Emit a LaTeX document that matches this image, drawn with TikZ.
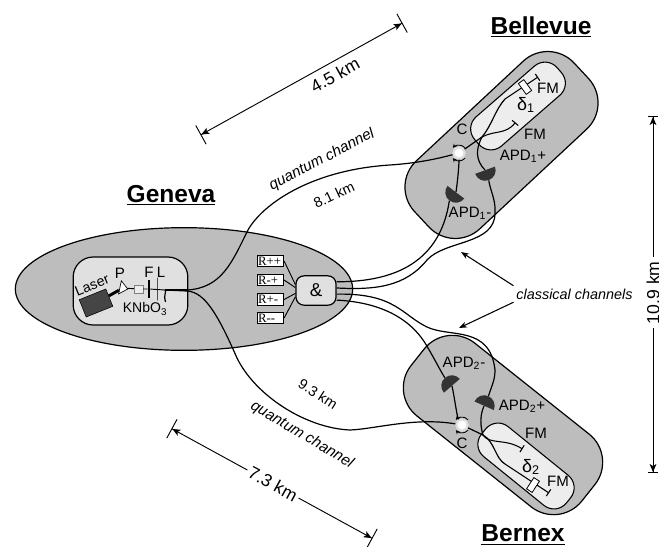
\documentclass[tikz,border=0pt]{standalone}
\usepackage{fontspec}
\setmainfont{Liberation Sans}
\newfontfamily\boxfont{Liberation Serif}
\usetikzlibrary{positioning, shapes.geometric, arrows.meta}
\definecolor{areagrey}{gray}{0.74}
\definecolor{roomgrey}{gray}{0.88}
\definecolor{armgrey}{gray}{0.93}
\definecolor{darkgrey}{gray}{0.27}
\definecolor{apdgrey}{gray}{0.2}

\begin{document}
\begin{tikzpicture}[x=0.75pt, y=-0.75pt,
    site/.style={draw, line width=0.9pt, fill=areagrey, rectangle, rounded corners=27pt, minimum width=163.5pt, minimum height=69.75pt},
    arm/.style={draw, line width=0.8pt, fill=armgrey, rectangle, rounded corners=12pt, minimum width=82pt, minimum height=29pt},
    city/.style={font=\fontsize{18.4}{20}\selectfont\bfseries},
    lab/.style={font=\fontsize{11.3}{13}\selectfont, inner sep=0pt},
    dist/.style={font=\fontsize{13.2}{15}\selectfont, inner sep=0pt},
    chan/.style={font=\fontsize{11.4}{13}\selectfont\itshape, inner sep=0pt},
    len/.style={font=\fontsize{10.8}{13}\selectfont, inner sep=0pt},
    fibre/.style={line width=0.9pt},
    fm/.style={line width=0.8pt, -{Bar[width=6pt]}},
    dimline/.style={line width=0.7pt, arrows={Bar[width=16pt]Stealth[inset=1.5pt,length=6pt,width=5pt]-Stealth[inset=1.5pt,length=6pt,width=5pt]Bar[width=16pt]}},
    apd/.style={semicircle, fill=apdgrey, inner sep=0pt, minimum width=15.75pt, minimum height=7.9pt, anchor=chord center},
    circ/.style={circle, fill=white, draw=gray!25, line width=1.6pt, inner sep=0pt, minimum size=8.5pt},
    turn/.style={line width=0.6pt, -{Stealth[length=3pt,width=3pt]}},
    rbox/.style={draw, fill=white, line width=0.7pt, inner sep=0.6pt, text width=18.5pt, text height=6.6pt, text depth=0.6pt, font=\fontsize{9.6}{9.6}\selectfont\boxfont},
    modul/.style={draw, fill=white, line width=0.6pt, inner sep=0pt, minimum width=5pt, minimum height=10pt}]
  \useasboundingbox (0,0) rectangle (659,546);

  \node[draw, line width=0.9pt, ellipse, fill=areagrey, minimum width=253pt, minimum height=92pt, inner sep=0pt] (geneva) at (184,289) {};
  \node[site, rotate=43] (bellevue) at (501.5,145) {};
  \node[site, rotate=-38.5] (bernex) at (503,425) {};
  \node[arm, rotate=41] (armone) at (518,106) {};
  \node[arm, rotate=-39] (armtwo) at (526,466) {};
  \node[draw, line width=0.9pt, rectangle, rounded corners=15pt, fill=roomgrey, minimum width=86pt, minimum height=51pt] (source) at (130.5,291) {};

  \node[city] (lblgeneva) at (171,195) {\underline{Geneva}};
  \node[city] (lblbellevue) at (541,27) {\underline{Bellevue}};
  \node[city] (lblbernex) at (523,535) {\underline{Bernex}};

  % source
  \node[rectangle, fill=darkgrey, draw=black, line width=0.4pt, rotate=22, minimum width=21.5pt, minimum height=14pt, inner sep=0pt] (laser) at (96,303) {};
  \node[isosceles triangle, isosceles triangle apex angle=80, draw, fill=white, line width=0.5pt, inner sep=0pt, minimum height=6pt, minimum width=8pt, rotate=-12] (prism) at (123,288) {};
  \node[draw=gray, fill=armgrey, line width=0.5pt, minimum width=6.5pt, minimum height=6pt, inner sep=0pt] (sq) at (138.5,289) {};
  \node[fill=black, minimum width=1.6pt, minimum height=13.5pt, inner sep=0pt] (filter) at (149,289) {};
  \node[draw, line width=0.3pt, minimum width=0pt, minimum height=17pt, inner sep=0pt] (lens) at (157,289) {};
  \coordinate (crystal) at (165,290);
  \coordinate (curl) at (165.5,302);
  \coordinate (qup) at (187,290);
  \coordinate (qdown) at (187,291);
  \draw[line width=2.2pt] (laser) -- (prism);
  \draw[line width=0.7pt] (prism) -- (sq) -- (filter) -- (crystal);
  \draw[fibre] (crystal) -- (qup);
  \draw[fibre] (crystal) -- (qdown);
  \draw[fibre] (curl) .. controls (163,296) and (167,291) .. (crystal);
  \node[lab, rotate=22, font=\fontsize{10.6}{13}\selectfont] (lbllaser) at (92,285) {Laser};
  \node[lab] (lblp) at (120,273) {P};
  \node[lab] (lblf) at (149,272) {F};
  \node[lab] (lbll) at (161,272) {L};
  \node[lab, font=\fontsize{10.5}{13}\selectfont] (lblk) at (145,309) {KNbO\textsubscript{3}};

  % coincidence
  \node[rbox] (r1) at (270.5,261) {R++};
  \node[rbox] (r2) at (270.5,280) {R-+};
  \node[rbox] (r3) at (270.5,299.5) {R+-};
  \node[rbox] (r4) at (270.5,318) {R--};
  \node[draw, line width=0.9pt, rectangle, rounded corners=6pt, fill=roomgrey, minimum width=30pt, minimum height=22pt, inner sep=0pt, font=\fontsize{14}{15}\selectfont] (and) at (316,290.5) {\&};
  \draw[line width=0.7pt] (r1.east) -- (and.164);
  \draw[line width=0.7pt] (r2.east) -- (and.172);
  \draw[line width=0.7pt] (r3.east) -- (and.188);
  \draw[line width=0.7pt] (r4.east) -- (and.197);

  % bellevue
  \node[apd, rotate=143] (apdonem) at (456,192) {};
  \node[apd, rotate=200] (apdonep) at (485,170) {};
  \node[circ] (cone) at (459,153) {};
  \draw[turn] (cone.center) ++(40:6pt) arc[start angle=40, end angle=140, radius=6pt];
  \draw[turn] (cone.center) ++(320:6pt) arc[start angle=320, end angle=220, radius=6pt];
  \coordinate (jone) at (482,137);
  \coordinate (fmone) at (515.5,122.5);
  \coordinate (bendone) at (505,99);
  \coordinate (fmtwo) at (538,77);
  \draw[fibre] (cone) -- (jone);
  \draw[fm] (jone) .. controls (495,130) and (505,135) .. (fmone);
  \draw[fibre] (jone) .. controls (492,125) and (495,110) .. (bendone);
  \draw[fm] (bendone) -- (fmtwo);
  \draw[fibre] (apdonep.chord center) .. controls (475,160) and (476,148) .. (jone);
  \draw[fibre] (cone) .. controls (459,165) and (458,178) .. (apdonem.chord center);
  \node[modul, rotate=36] (phone) at (525,87) {};
  \node[lab] (lblcone) at (462,129) {C};
  \node[lab] (lblfmone) at (548,88) {FM};
  \node[lab] (lblfmtwo) at (535,134) {FM};
  \node[lab, font=\fontsize{13.5}{15}\selectfont] (lbldone) at (526,105) {δ\textsubscript{1}};
  \node[lab] (lblapdonep) at (523,156) {APD\textsubscript{1}+};
  \node[lab] (lblapdonem) at (470,213) {APD\textsubscript{1}-};

  % bernex
  \node[apd, rotate=41] (apdtwom) at (452,386) {};
  \node[apd, rotate=-24] (apdtwop) at (484,406) {};
  \node[circ] (ctwo) at (462,425) {};
  \draw[turn] (ctwo.center) ++(40:6pt) arc[start angle=40, end angle=140, radius=6pt];
  \draw[turn] (ctwo.center) ++(320:6pt) arc[start angle=320, end angle=220, radius=6pt];
  \coordinate (jtwo) at (483,435);
  \coordinate (fmthree) at (522.5,449);
  \coordinate (bendtwo) at (505,464);
  \coordinate (fmfour) at (549,493);
  \draw[fibre] (ctwo) -- (jtwo);
  \draw[fm] (jtwo) .. controls (490,445) and (505,438) .. (fmthree);
  \draw[fibre] (jtwo) .. controls (495,442) and (495,458) .. (bendtwo);
  \draw[fm] (bendtwo) -- (fmfour);
  \draw[fibre] (apdtwop.chord center) .. controls (480,415) and (480,425) .. (jtwo);
  \draw[fibre] (ctwo) .. controls (457,417) and (455,400) .. (apdtwom.chord center);
  \node[modul, rotate=-33] (phtwo) at (533,485) {};
  \node[lab] (lblctwo) at (462,443) {C};
  \node[lab] (lblfmthree) at (536,433) {FM};
  \node[lab] (lblfmfour) at (558,481) {FM};
  \node[lab, font=\fontsize{13.5}{15}\selectfont] (lbldtwo) at (531,467) {δ\textsubscript{2}};
  \node[lab] (lblapdtwop) at (522,406) {APD\textsubscript{2}+};
  \node[lab] (lblapdtwom) at (464,363) {APD\textsubscript{2}-};

  % quantum channels
  \draw[fibre] (qup) .. controls (222,288) and (232,262) .. (248,230) .. controls (262,205) and (310,170) .. (390,165) .. controls (420,163) and (440,158) .. (cone);
  \draw[fibre] (qdown) .. controls (205,292) and (218,315) .. (237,358) .. controls (255,395) and (305,428) .. (350,430) .. controls (375,429) and (415,417) .. (ctwo);
  \node[chan, rotate=27.6] (qcone) at (322,160) {quantum channel};
  \node[chan, rotate=-30.7] (qctwo) at (302,435) {quantum channel};
  \node[len, rotate=25] (lenone) at (334,195) {8.1 km};
  \node[len, rotate=-33] (lentwo) at (318,394) {9.3 km};

  % classical channels
  \draw[fibre] (and.23) .. controls (395,282) and (440,262) .. (apdonem.apex);
  \draw[fibre] (and.7) .. controls (375,290) and (405,287) .. (427,260) .. controls (445,240) and (495,245) .. (495,213) .. controls (496,200) and (490,190) .. (apdonep.apex);
  \draw[fibre] (and.-10) .. controls (395,293) and (402,315) .. (427,327) .. controls (450,338) and (490,325) .. (495,370) .. controls (495,380) and (492,385) .. (apdtwop.apex);
  \draw[fibre] (and.-25) .. controls (375,302) and (410,315) .. (428,348) .. controls (434,358) and (440,370) .. (apdtwom.apex);
  \node[font=\fontsize{10.8}{13}\selectfont\itshape, inner sep=2pt] (classical) at (574.5,294) {classical channels};
  \coordinate (toone) at (461,252);
  \coordinate (totwo) at (459,328);
  \draw[line width=0.8pt, -{Stealth[length=6pt,width=4.5pt]}] (classical.north west) -- (toone);
  \draw[line width=0.8pt, -{Stealth[length=6pt,width=4.5pt]}] (classical.south west) -- (totwo);

  % distances
  \coordinate (dafrom) at (200.5,135);
  \coordinate (dato) at (402.5,23);
  \coordinate (dbfrom) at (171.5,428.5);
  \coordinate (dbto) at (372.5,538.5);
  \coordinate (dcfrom) at (653,473);
  \coordinate (dcto) at (653,116);
  \draw[dimline] (dafrom) -- (dato);
  \node[dist, rotate=29] (distone) at (335,75) {4.5 km};
  \draw[dimline] (dbfrom) -- node[dist, sloped, fill=white, inner sep=2pt, pos=0.505] (disttwo) {7.3 km} (dbto);
  \draw[dimline, arrows={Bar[width=7.5pt]Stealth[inset=1.5pt,length=6pt,width=5pt]-Stealth[inset=1.5pt,length=6pt,width=5pt]Bar[width=7.5pt]}] (dcfrom) -- node[dist, rotate=90, fill=white, inner sep=3pt, pos=0.505] (distthree) {10.9 km} (dcto);
\end{tikzpicture}
\end{document}
